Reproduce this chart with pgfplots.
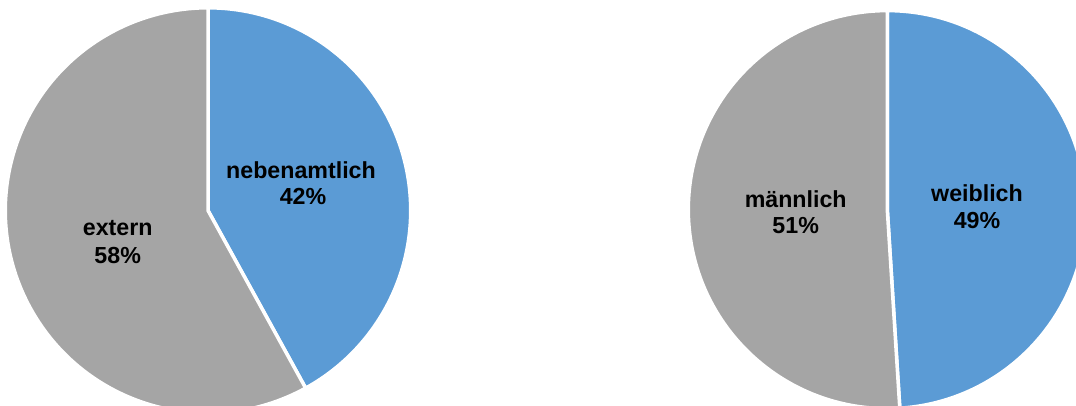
\documentclass[border=0pt]{standalone}
\usepackage{fontspec}
\setmainfont{Liberation Sans}
\usepackage{pgfplots}
\usepackage{pgfplotstable}
\pgfplotsset{compat=1.18}
\definecolor{pieblue}{HTML}{5B9BD5}
\definecolor{piegray}{HTML}{A5A5A5}

% left pie: nebenamtlich / extern
\pgfplotstableread{
label value
nebenamtlich 42
extern 58
}\tabamt
% right pie: weiblich / maennlich
\pgfplotstableread{
label value
weiblich 49
maennlich 51
}\tabsex

\pgfplotstablegetelem{0}{value}\of\tabamt \edef\vNeb{\pgfplotsretval}
\pgfplotstablegetelem{1}{value}\of\tabamt \edef\vExt{\pgfplotsretval}
\pgfplotstablegetelem{0}{value}\of\tabsex \edef\vWei{\pgfplotsretval}
\pgfplotstablegetelem{1}{value}\of\tabsex \edef\vMae{\pgfplotsretval}
\pgfmathsetmacro\aNeb{90-3.6*\vNeb}
\pgfmathsetmacro\aWei{90-3.6*\vWei}

\begin{document}
\begin{tikzpicture}
\begin{axis}[
  scale only axis,
  width=1076bp, height=405bp,
  xmin=0, xmax=1076, ymin=0, ymax=405,
  hide axis, clip=true,
]
% left pie
\fill[pieblue, draw=white, line width=3.5bp]
  (axis cs:208,194.5) -- ++(90:202.7bp)
  arc[start angle=90, end angle=\aNeb, radius=202.7bp] -- cycle;
\fill[piegray, draw=white, line width=3.5bp]
  (axis cs:208,194.5) -- ++(\aNeb:202.7bp)
  arc[start angle=\aNeb, end angle=-270, radius=202.7bp] -- cycle;
% right pie
\fill[pieblue, draw=white, line width=3.5bp]
  (axis cs:887.3,195.4) -- ++(90:199bp)
  arc[start angle=90, end angle=\aWei, radius=199bp] -- cycle;
\fill[piegray, draw=white, line width=3.5bp]
  (axis cs:887.3,195.4) -- ++(\aWei:199bp)
  arc[start angle=\aWei, end angle=-270, radius=199bp] -- cycle;

\begin{scope}[every node/.style={anchor=base, inner sep=0pt,
    font=\fontsize{23.3}{28}\selectfont\bfseries}]
\node at (axis cs:301,226.7) {nebenamtlich};
\node at (axis cs:303,200) {\vNeb\%};
\node at (axis cs:117.7,169) {extern};
\node at (axis cs:117.7,141.7) {\vExt\%};
\node at (axis cs:795.7,197.7) {männlich};
\node at (axis cs:795.7,171.7) {\vMae\%};
\node at (axis cs:977,203.5) {weiblich};
\node at (axis cs:977,176.7) {\vWei\%};
\end{scope}
\end{axis}
\pgfresetboundingbox
\path[use as bounding box] (current axis.south west) rectangle (current axis.north east);
\end{tikzpicture}
\end{document}
